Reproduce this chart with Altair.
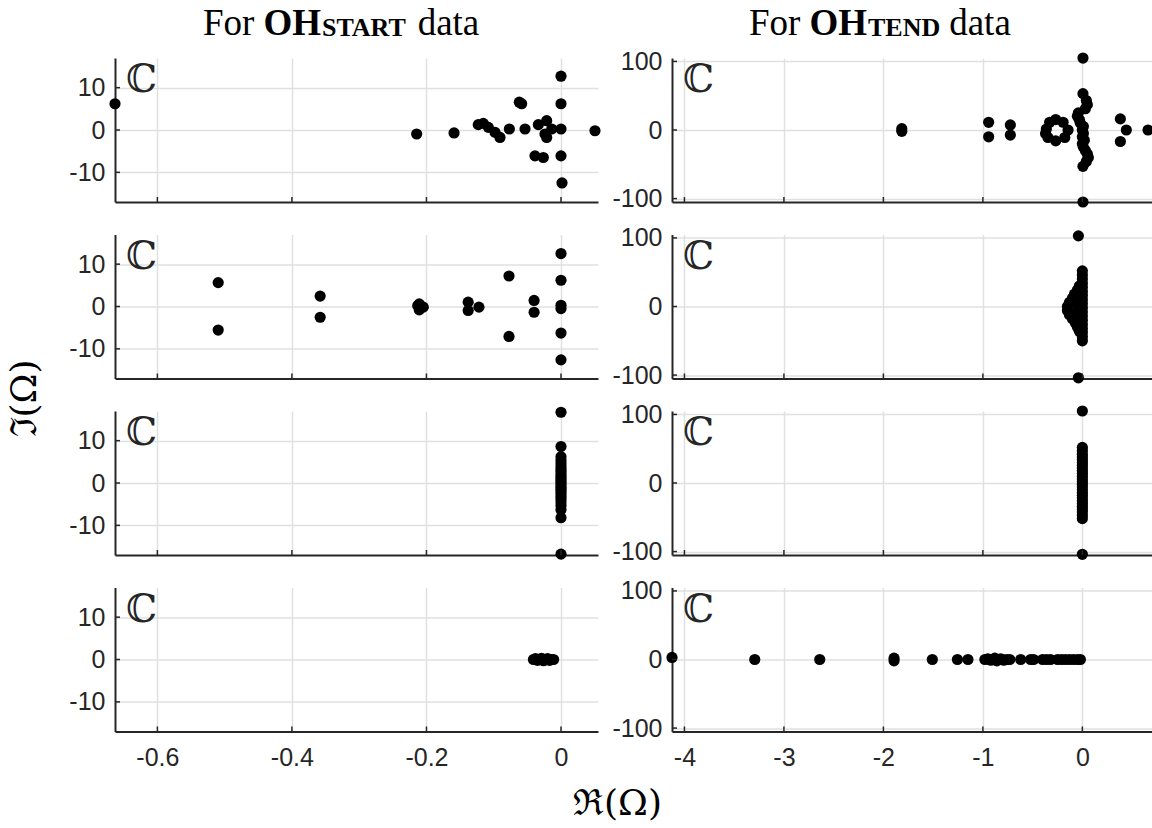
import altair as alt
import pandas as pd

# ---------------- data ----------------
# OH_START column
start_r1_re = [-0.663, -0.2146, -0.159, -0.123, -0.1155, -0.108, -0.098, -0.0907, -0.0768,
               -0.062, -0.0585, -0.0535, -0.0337, -0.0213, -0.0238, -0.0213, -0.0138,
               -0.0387, -0.0263, 0.0, 0.0, 0.0, 0.0, 0.0015, 0.0505]
start_r1_im = [6.2, -0.95, -0.7, 1.26, 1.57, 0.62, -0.57, -1.76, 0.24,
               6.57, 6.2, 0.24, 1.26, 2.2, -0.95, -1.76, 0.24,
               -6.1, -6.5, 12.7, 6.2, 0.24, -6.1, -12.5, -0.17]

start_r2_re = [-0.5096, -0.5096, -0.358, -0.358, -0.2107, -0.2107, -0.2047, -0.213,
               -0.138, -0.138, -0.122, -0.0773, -0.0773, -0.040, -0.040,
               0.0, 0.0, 0.0, 0.0, 0.0, 0.0]
start_r2_im = [5.64, -5.56, 2.46, -2.54, 0.63, -0.8, -0.15, 0.2,
               1.03, -0.95, -0.15, 7.2, -7.07, 1.43, -1.35,
               12.5, 6.2, 0.3, -0.5, -6.27, -12.6]

start_r3_re = [0.0, 0.0, 0.0, 0.0, 0.0, 0.0, 0.0, 0.0, 0.0, 0.0, 0.0, 0.0, 0.0,
               0.0, 0.0, 0.0, 0.0, 0.0, 0.0, 0.0, 0.0, 0.0, 0.0, 0.0, 0.0]
start_r3_im = [16.7, 8.6, 6.2, 5.3, 4.5, 3.8, 3.2, 2.6, 2.0, 1.5, 1.0, 0.5, 0.0,
               -0.5, -1.0, -1.5, -2.0, -2.6, -3.2, -3.8, -4.5, -5.3, -6.3, -8.2, -16.8]

start_r4_re = [-0.041, -0.038, -0.035, -0.032, -0.029, -0.026, -0.023, -0.020, -0.017, -0.014, -0.011]
start_r4_im = [0.0, 0.2, -0.2, 0.0, 0.3, -0.3, 0.0, 0.2, -0.2, 0.0, 0.0]

# OH_TEND column
tend_r1_re = [-1.815, -1.815, -0.942, -0.942, -0.724, -0.724,
              -0.362, -0.329, -0.268, -0.194, -0.144, -0.177, -0.268, -0.346, -0.37,
              0.006, 0.006, 0.04, 0.05, 0.03, -0.04, -0.05, -0.03, -0.02, 0.01, 0.0,
              0.01, 0.0, 0.02, 0.0, 0.01, 0.03, 0.05, 0.06, 0.04, 0.006, 0.006,
              0.382, 0.442, 0.382, 0.66]
tend_r1_im = [2.0, -2.0, 11.2, -9.9, 7.4, -7.4,
              1.5, 11.3, 15.2, 11.3, 0.0, -10.9, -15.8, -10.9, -5.0,
              104.9, 53.0, 43.0, 37.0, 31.0, 25.0, 20.0, 15.0, 10.0, 5.0, 0.0,
              -5.0, -10.0, -15.0, -20.0, -25.0, -30.0, -35.0, -40.0, -46.0, -53.0, -105.0,
              16.2, 0.0, -16.8, 0.0]

tend_r2_re = [-0.04, 0.0, 0.0, 0.0, 0.0, 0.0, 0.0, 0.0, 0.0, 0.0,
              0.0, 0.0, 0.0, 0.0, 0.0, 0.0, 0.0, 0.0, 0.0,
              -0.03, -0.05, -0.08, -0.10, -0.13, -0.15, -0.15, -0.13, -0.10, -0.07, -0.05, -0.03,
              -0.07, -0.07, -0.04]
tend_r2_im = [103.0, 52.0, 46.0, 40.0, 34.0, 28.0, 22.0, 16.0, 10.0, 4.0,
              -2.0, -8.0, -14.0, -20.0, -26.0, -32.0, -38.0, -44.0, -50.0,
              30.0, 24.0, 18.0, 12.0, 6.0, 0.0, -6.0, -12.0, -18.0, -24.0, -30.0, -36.0,
              6.0, -8.0, -104.0]

tend_r3_re = [0.0, 0.0, 0.0, 0.0, 0.0, 0.0, 0.0, 0.0, 0.0, 0.0, 0.0, 0.0, 0.0, 0.0,
              0.0, 0.0, 0.0, 0.0, 0.0, 0.0, 0.0, 0.0, 0.0, 0.0, 0.0, 0.0, 0.0, 0.0]
tend_r3_im = [105.0, 52.0, 47.0, 42.0, 38.0, 34.0, 30.0, 26.0, 22.0, 18.0, 14.0, 10.0, 6.0, 2.0,
              -2.0, -6.0, -10.0, -14.0, -18.0, -22.0, -26.0, -30.0, -34.0, -38.0, -42.0, -47.0, -52.0, -104.0]

tend_r4_re = [-4.125, -3.293, -2.64, -1.893, -1.893, -1.508, -1.256, -1.150,
              -0.98, -0.95, -0.92, -0.90, -0.88, -0.86, -0.84, -0.82, -0.79, -0.76, -0.73,
              -0.62, -0.52, -0.49, -0.40, -0.36, -0.32, -0.25, -0.21, -0.17, -0.13, -0.09, -0.05, -0.02]
tend_r4_im = [3.0, 0.0, 0.0, 2.0, -2.0, 0.0, 0.0, 0.0,
              0.0, 1.0, -1.0, 0.0, 2.0, -2.0, 0.0, 1.0, -1.0, 0.0, 0.0,
              0.0, 0.0, 0.0, 0.0, 0.0, 0.0, 0.0, 0.0, 0.0, 0.0, 0.0, 0.0, 0.0]

# axes
start_x_domain = [-0.663, 0.055]
tend_x_domain = [-4.125, 0.70]
start_y_domain = [-17, 17]
tend_y_domain = [-105, 105]
start_x_ticks = [-0.6, -0.4, -0.2, 0]
tend_x_ticks = [-4, -3, -2, -1, 0]
start_y_ticks = [-10, 0, 10]
tend_y_ticks = [-100, 0, 100]

# texts
title_start = ["For", "OH", "START", "data"]
title_tend = ["For", "OH", "TEND", "data"]
plane_symbol = "\u2102"
x_title = "\u211c(\u03a9)"
y_title = "\u2111(\u03a9)"

# ---------------- style ----------------
INK = "#262626"
GRID = "#e0e0e0"
SERIF = "Liberation Serif"
SANS = "Liberation Sans"
W_L, W_R, H = 483, 480, 144
F_MAIN, F_SUB = 37, 26
TITLE_Y = -23.5
LABEL_EXPR = "datum.value < 0 ? '-' + format(-datum.value, '~g') : format(datum.value, '~g')"


def txt(s, x, y, size, weight="normal", font=SERIF, align="left",
        baseline="alphabetic", angle=0, color="#000000"):
    return alt.Chart(pd.DataFrame({"t": [s]})).mark_text(
        align=align, baseline=baseline, font=font, fontSize=size,
        fontWeight=weight, color=color, angle=angle
    ).encode(text="t:N", x=alt.value(x), y=alt.value(y))


def panel(re, im, xdom, ydom, xt, yt, w, bottom, clip_edge, extras):
    xs = alt.Scale(domain=xdom, nice=False, zero=False)
    ys = alt.Scale(domain=ydom, nice=False, zero=False)
    xaxis = alt.Axis(values=xt, labels=bottom, ticks=False, grid=True, title=None,
                     labelExpr=LABEL_EXPR, labelFlush=False, labelOverlap=False)
    yaxis = alt.Axis(values=yt, ticks=False, grid=True, title=None,
                     labelExpr=LABEL_EXPR, labelFlush=False, labelOverlap=False)
    df = pd.DataFrame({"re": re, "im": im})
    enc = dict(x=alt.X("re:Q", scale=xs, axis=xaxis), y=alt.Y("im:Q", scale=ys, axis=yaxis))
    layers = []
    if clip_edge:
        cut = xdom[1] - 0.06
        layers.append(alt.Chart(df).transform_filter(f"datum.re <= {cut}")
                      .mark_circle(size=125, color="black", opacity=1).encode(**enc))
        layers.append(alt.Chart(df).transform_filter(f"datum.re > {cut}")
                      .mark_circle(size=125, color="black", opacity=1, clip=True).encode(**enc))
    else:
        layers.append(alt.Chart(df).mark_circle(size=125, color="black", opacity=1).encode(**enc))
    # inward ticks (MATLAB style)
    layers.append(alt.Chart(pd.DataFrame({"t": xt})).mark_rule(color=INK, strokeWidth=1.5).encode(
        x=alt.X("t:Q", scale=xs, axis=xaxis), y=alt.value(H), y2=alt.value(H - 5)))
    layers.append(alt.Chart(pd.DataFrame({"t": yt})).mark_rule(color=INK, strokeWidth=1.5).encode(
        y=alt.Y("t:Q", scale=ys, axis=yaxis), x=alt.value(0), x2=alt.value(5)))
    layers.append(txt(plane_symbol, 11, 34, 39, font="DejaVu Serif", color=INK))
    layers.extend(extras)
    return alt.layer(*layers).properties(width=w, height=H)


def title_layers(parts, start, sub_w):
    x_for = start
    x_oh = x_for + 1.389 * F_MAIN + 9
    x_sub = x_oh + 1.556 * F_MAIN + 1
    x_data = x_sub + sub_w + 9
    return [
        txt(parts[0], x_for, TITLE_Y, F_MAIN),
        txt(parts[1], x_oh, TITLE_Y, F_MAIN, weight="bold"),
        txt(parts[2], x_sub, TITLE_Y + 1.5, F_SUB, weight="bold"),
        txt(parts[3], x_data, TITLE_Y, F_MAIN),
    ]


anchor = alt.Chart(pd.DataFrame({"a": [0]})).mark_rect(opacity=0).encode(
    x=alt.value(-115), x2=alt.value(-114), y=alt.value(-58), y2=alt.value(-57))

L1 = panel(start_r1_re, start_r1_im, start_x_domain, start_y_domain, start_x_ticks, start_y_ticks,
           W_L, False, False, title_layers(title_start, 88, 3.334 * F_SUB) + [anchor])
R1 = panel(tend_r1_re, tend_r1_im, tend_x_domain, tend_y_domain, tend_x_ticks, tend_y_ticks,
           W_R, False, True, title_layers(title_tend, 77, 2.778 * F_SUB))
L2 = panel(start_r2_re, start_r2_im, start_x_domain, start_y_domain, start_x_ticks, start_y_ticks,
           W_L, False, False, [txt(y_title, -90, 164, 36, font="DejaVu Serif", align="center",
                                   baseline="middle", angle=270)])
R2 = panel(tend_r2_re, tend_r2_im, tend_x_domain, tend_y_domain, tend_x_ticks, tend_y_ticks,
           W_R, False, True, [])
L3 = panel(start_r3_re, start_r3_im, start_x_domain, start_y_domain, start_x_ticks, start_y_ticks,
           W_L, False, False, [])
R3 = panel(tend_r3_re, tend_r3_im, tend_x_domain, tend_y_domain, tend_x_ticks, tend_y_ticks,
           W_R, False, True, [])
L4 = panel(start_r4_re, start_r4_im, start_x_domain, start_y_domain, start_x_ticks, start_y_ticks,
           W_L, True, False, [txt(x_title, 502.5, 227, 36, font="DejaVu Serif", align="center")])
R4 = panel(tend_r4_re, tend_r4_im, tend_x_domain, tend_y_domain, tend_x_ticks, tend_y_ticks,
           W_R, True, True, [])

chart = alt.concat(L1, R1, L2, R2, L3, R3, L4, R4, columns=2,
                   spacing={"row": 32.5, "column": 74}, bounds="flush").properties(
    padding=0
).configure_view(stroke=None).configure_axis(
    domainColor=INK, domainWidth=2, gridColor=GRID, gridWidth=1.5,
    labelFont=SANS, labelFontSize=25, labelColor=INK
).configure_axisX(labelPadding=14).configure_axisY(labelPadding=10)

chart.save("out.html", embed_options={"renderer": "svg", "actions": False})
